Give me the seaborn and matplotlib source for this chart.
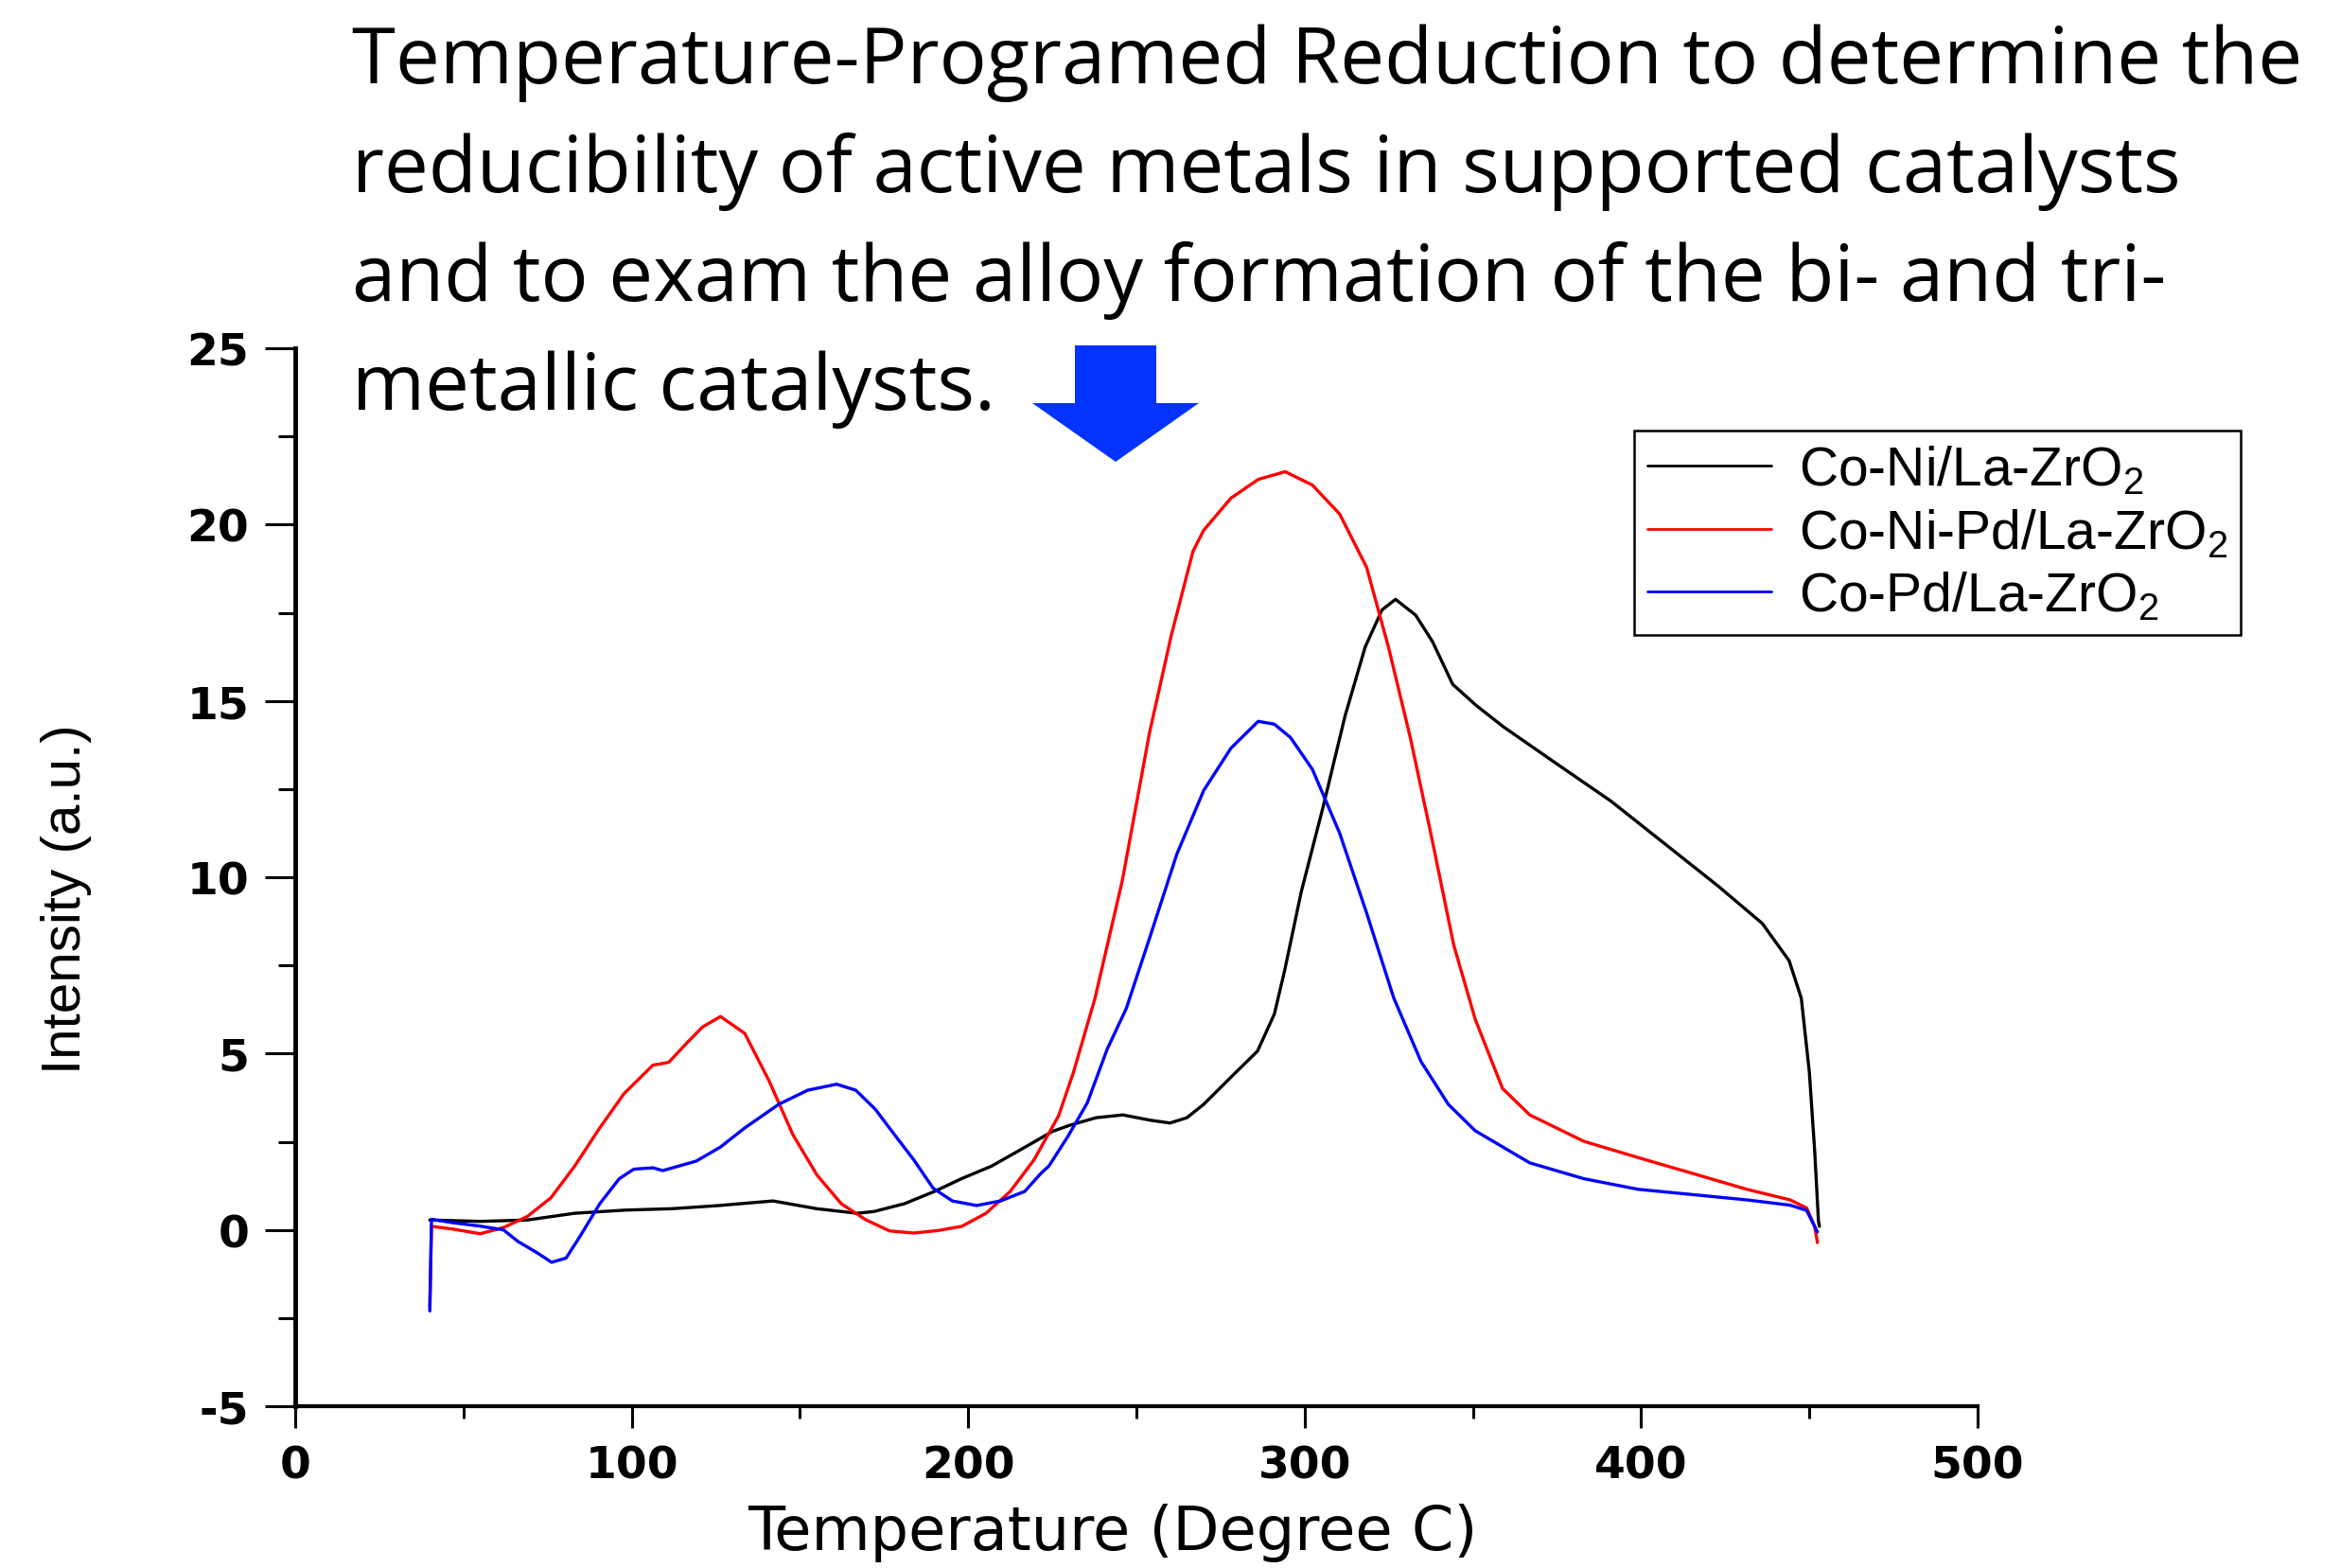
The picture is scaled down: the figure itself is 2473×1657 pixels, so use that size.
import pandas as pd
import matplotlib.pyplot as plt
import seaborn as sns
from matplotlib import font_manager
from matplotlib.patches import Polygon
from matplotlib.ticker import MultipleLocator

# TPR profiles
coni_temp = [40, 55, 69, 83, 98, 112, 126, 142, 155, 167, 172, 181, 190, 198, 207,
             217, 225, 230, 238, 246, 254, 260, 265, 270, 278, 286, 291, 294, 299,
             305.5, 312, 318, 323, 327, 333, 338, 344, 351, 359, 375, 391, 407, 423,
             436, 444, 447.6, 450, 451.6, 452.7, 453]
coni_int = [0.28, 0.24, 0.28, 0.47, 0.56, 0.60, 0.69, 0.82, 0.60, 0.47, 0.52, 0.74,
            1.09, 1.45, 1.81, 2.35, 2.79, 2.96, 3.18, 3.26, 3.11, 3.03, 3.18, 3.56,
            4.32, 5.07, 6.12, 7.33, 9.59, 12.0, 14.57, 16.53, 17.58, 17.88, 17.43,
            16.68, 15.47, 14.87, 14.27, 13.21, 12.16, 10.95, 9.74, 8.69, 7.63, 6.57,
            4.47, 2.21, 0.25, 0.1]

conipd_temp = [40, 40.5, 47, 55, 62, 69, 76, 83, 90.5, 97.7, 106.3, 111, 116.4, 121,
               126.4, 133.6, 140.8, 147.9, 155.1, 162.3, 169.5, 176.6, 183.8, 191,
               198.1, 205.3, 212.5, 219.6, 226.9, 231.3, 237.7, 245.8, 253.9, 260.3,
               266.8, 270, 278.1, 286.2, 294.2, 302.3, 310.4, 318.4, 324.9, 331.4,
               337.8, 344.3, 350.7, 358.8, 366.9, 383, 399.1, 415.3, 431.4, 444.3,
               449.2, 451.6, 452.4]
conipd_int = [-2.2, 0.1, 0.02, -0.11, 0.07, 0.38, 0.91, 1.8, 2.89, 3.86, 4.67, 4.75,
              5.3, 5.75, 6.05, 5.57, 4.23, 2.7, 1.55, 0.74, 0.29, -0.03, -0.09, -0.02,
              0.1, 0.47, 1.09, 1.99, 3.24, 4.47, 6.57, 9.9, 14.1, 16.83, 19.24, 19.84,
              20.75, 21.28, 21.5, 21.12, 20.3, 18.79, 16.53, 13.96, 11.1, 8.08, 5.97,
              4.01, 3.26, 2.51, 2.05, 1.6, 1.15, 0.85, 0.62, 0.09, -0.36]

copd_temp = [40, 40.5, 47, 54.7, 61.9, 66.2, 71.9, 76.2, 80.5, 84.8, 90.5, 96.3, 100.6,
             106.3, 109.2, 119.2, 126.4, 133.6, 143.7, 152.3, 160.9, 166.6, 172.4,
             178.1, 183.8, 189.6, 195.3, 202.5, 209.6, 216.8, 221.6, 224, 229.7,
             235.4, 241.3, 247, 254, 262, 270, 278.1, 286.2, 291, 295.8, 302.3, 310.4,
             318.4, 326.5, 334.6, 342.7, 350.7, 366.9, 383, 399.1, 415.3, 431.4,
             444.3, 449.2, 452.4]
copd_int = [-2.3, 0.3, 0.2, 0.11, 0.0, -0.33, -0.65, -0.92, -0.8, -0.16, 0.74, 1.45,
            1.72, 1.76, 1.68, 1.95, 2.35, 2.89, 3.56, 3.96, 4.13, 3.96, 3.42, 2.7,
            1.99, 1.18, 0.82, 0.69, 0.82, 1.09, 1.6, 1.81, 2.66, 3.6, 5.12, 6.28, 8.3,
            10.65, 12.46, 13.66, 14.42, 14.34, 13.96, 13.06, 11.25, 8.99, 6.57, 4.77,
            3.56, 2.81, 1.9, 1.45, 1.15, 1.0, 0.85, 0.7, 0.55, -0.06]

samples = ['Co-Ni/La-ZrO$_2$', 'Co-Ni-Pd/La-ZrO$_2$', 'Co-Pd/La-ZrO$_2$']
colors = ['black', 'red', 'blue']

title_lines = ['Temperature-Programed Reduction to determine the',
               'reducibility of active metals in supported catalysts',
               'and to exam the alloy formation of the bi- and tri-',
               'metallic catalysts.']

df = pd.concat([
    pd.DataFrame({'temp': coni_temp, 'intensity': coni_int, 'sample': samples[0]}),
    pd.DataFrame({'temp': conipd_temp, 'intensity': conipd_int, 'sample': samples[1]}),
    pd.DataFrame({'temp': copd_temp, 'intensity': copd_int, 'sample': samples[2]}),
], ignore_index=True)

sns.set_style('ticks', {'axes.edgecolor': 'black', 'text.color': 'black',
                        'xtick.color': 'black', 'ytick.color': 'black'})
plt.rcParams['font.family'] = ['Liberation Sans', 'DejaVu Sans']
plt.rcParams['mathtext.fontset'] = 'custom'
plt.rcParams['mathtext.rm'] = 'Liberation Sans'
plt.rcParams['mathtext.it'] = 'Liberation Sans:italic'
plt.rcParams['axes.unicode_minus'] = False

names = {f.name for f in font_manager.fontManager.ttflist}
narrow = 'Liberation Sans Narrow' if 'Liberation Sans Narrow' in names else 'Liberation Sans'

W, H = 2473, 1658
fig = plt.figure(figsize=(W / 100, H / 100), dpi=100)
ax = fig.add_axes([312 / W, 1 - 1487 / H, (2090 - 312) / W, (1487 - 369) / H])

sns.lineplot(data=df, x='temp', y='intensity', hue='sample', hue_order=samples,
             palette=dict(zip(samples, colors)), sort=False, estimator=None,
             lw=2.4, legend=False, ax=ax)

ax.set_xlim(0, 500)
ax.set_ylim(-5, 25)
ax.xaxis.set_major_locator(MultipleLocator(100))
ax.xaxis.set_minor_locator(MultipleLocator(50))
ax.yaxis.set_major_locator(MultipleLocator(5))
ax.yaxis.set_minor_locator(MultipleLocator(2.5))

for s in ['top', 'right']:
    ax.spines[s].set_visible(False)
ax.spines['left'].set_linewidth(3.5)
ax.spines['bottom'].set_linewidth(3)

ax.tick_params(axis='y', which='major', direction='out', length=23, width=2.2, pad=12)
ax.tick_params(axis='y', which='minor', direction='out', length=13, width=2.2)
ax.tick_params(axis='x', which='major', direction='out', length=16.5, width=2.2, pad=13)
ax.tick_params(axis='x', which='minor', direction='out', length=9.5, width=2.2)
for lab in ax.get_xticklabels() + ax.get_yticklabels():
    lab.set_fontfamily('DejaVu Sans')
    lab.set_fontweight('bold')
    lab.set_fontsize(34)

ax.set_xlabel('')
ax.set_ylabel('')
fig.text(0.5 * (312 + 2090) / W - 0.01, 1 - 1638 / H, 'Temperature (Degree C)',
         family='DejaVu Sans', fontsize=46, ha='center', va='baseline')
fig.text(70 / W, 1 - 950 / H, 'Intensity (a.u.)', family=narrow, fontsize=42,
         rotation=90, ha='center', va='center')

handles = ax.get_lines()[:3]
leg = ax.legend(handles, samples, loc='upper left',
                bbox_to_anchor=(1727 / W, 1 - 456 / H), bbox_transform=fig.transFigure,
                fontsize=41, frameon=True, fancybox=False, framealpha=1,
                edgecolor='black', handlelength=2.3, handletextpad=0.5,
                labelspacing=0.2, borderpad=0.25, borderaxespad=0)
leg.get_frame().set_linewidth(1.8)
for ln in leg.get_lines():
    ln.set_linewidth(2)

for i, line in enumerate(title_lines):
    fig.text(372 / W, 1 - (88 + 115 * i) / H, line, family='Open Sans',
             fontsize=60, color='black', ha='left', va='baseline')

arrow_px = [(1136, 366), (1222, 366), (1222, 427), (1267, 427), (1179, 489),
            (1091, 427), (1136, 427)]
fig.patches.append(Polygon([(x / W, 1 - y / H) for x, y in arrow_px], closed=True,
                           transform=fig.transFigure, facecolor='#0433FF',
                           edgecolor='none'))

fig.savefig('out.png', dpi=100)
